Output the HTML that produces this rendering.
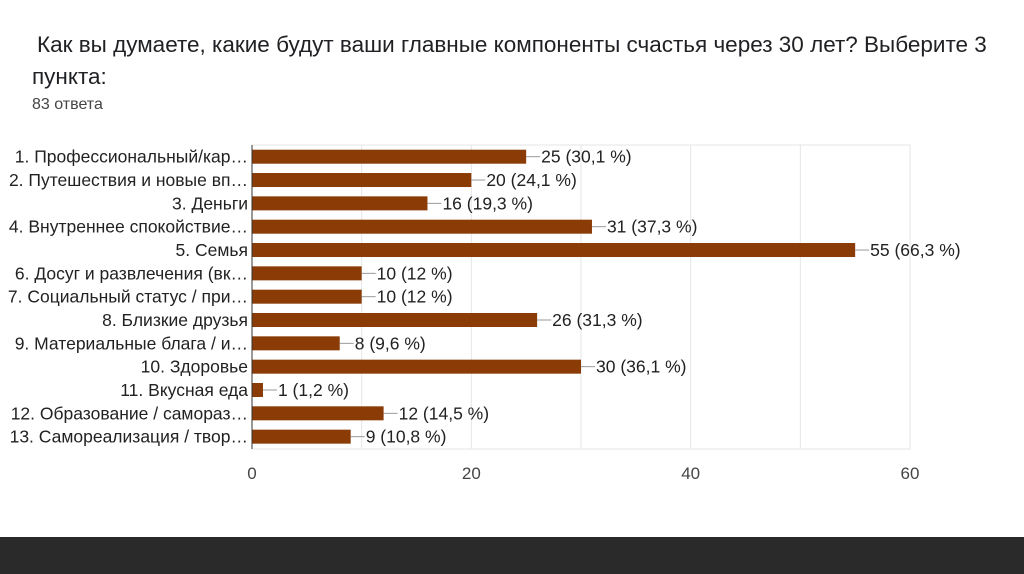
<!DOCTYPE html>
<html><head><meta charset="utf-8"><style>
body{margin:0;width:1024px;height:574px;background:#fff;overflow:hidden;font-family:"Liberation Sans","Noto Sans CJK SC",sans-serif;color:#202124;position:relative}
.t{position:absolute;left:37px;font-size:22.5px;line-height:30px;white-space:nowrap}
#band{position:absolute;left:0;top:537px;width:1024px;height:37px;background:#2a2a2a}
</style></head><body>
<div class="t" style="top:30px">Как вы думаете, какие будут ваши главные компоненты счастья через 30 лет? Выберите 3</div>
<div class="t" style="top:62px;left:32px">пункта:</div>
<div style="position:absolute;left:32px;top:96px;font-size:16px;color:#444">83 ответа</div>
<svg id="chart" width="1024" height="520" style="position:absolute;left:0;top:0"></svg>
<div id="band"></div>
<script>
const categories=["1. Профессиональный/кар…","2. Путешествия и новые вп…","3. Деньги","4. Внутреннее спокойствие…","5. Семья","6. Досуг и развлечения (вк…","7. Социальный статус / при…","8. Близкие друзья","9. Материальные блага / и…","10. Здоровье","11. Вкусная еда","12. Образование / самораз…","13. Самореализация / твор…"];
const values=[25,20,16,31,55,10,10,26,8,30,1,12,9];
const percents=["30,1 %","24,1 %","19,3 %","37,3 %","66,3 %","12 %","12 %","31,3 %","9,6 %","36,1 %","1,2 %","14,5 %","10,8 %"];
const ticks=[0,20,40,60];
const grid=[10,20,30,40,50,60];
const NS="http://www.w3.org/2000/svg";
const svg=document.getElementById('chart');
const x=v=>252+v*(910-252)/60;
const y=i=>145+i*23.33+11.7;
function mk(tag,attrs,parent){const e=document.createElementNS(NS,tag);for(const k in attrs)e.setAttribute(k,attrs[k]);(parent||svg).appendChild(e);return e;}
mk('rect',{x:252,y:145,width:658,height:304,fill:'none',stroke:'#e6e6e6'});
grid.forEach(g=>{const l=mk('line',{x1:x(g),x2:x(g),y1:145,y2:449,stroke:'#e6e6e6'});

});
ticks.forEach(t=>{const e=mk('text',{x:x(t),y:479,'text-anchor':'middle','font-size':17,fill:'#444'});e.textContent=t;

});
categories.forEach((c,i)=>{
const cy=y(i);
const lab=mk('text',{x:248,y:cy+6,'text-anchor':'end','font-size':17.5,fill:'#222'});lab.textContent=c;


const b=mk('rect',{x:252,y:cy-7,width:x(values[i])-252,height:14,fill:'#8a3b06'});


mk('line',{x1:x(values[i]),x2:x(values[i])+14,y1:cy,y2:cy,stroke:'#999'});
const v=mk('text',{x:x(values[i])+15,y:cy+6,'font-size':17.5,fill:'#222'});v.textContent=values[i]+" ("+percents[i]+")";


});
mk('line',{x1:252,x2:252,y1:145,y2:449,stroke:'#333'});
</script>
</body></html>
